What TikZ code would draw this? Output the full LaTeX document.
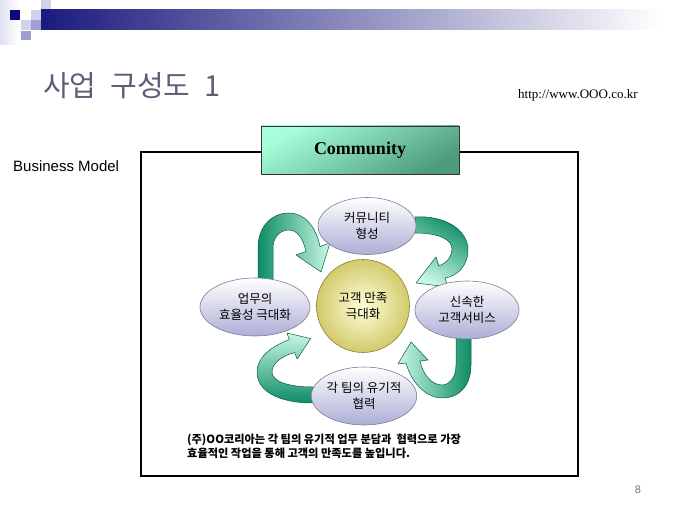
\documentclass[tikz,border=0pt]{standalone}
\usepackage{fontspec}
\setmainfont{Liberation Serif}
\newfontfamily\krfont{Noto Sans CJK KR}
\newfontfamily\arialfont{Liberation Sans}
\usetikzlibrary{shapes.geometric}
\definecolor{barnavy}{HTML}{1A1A7E}
\definecolor{sqnavy}{HTML}{0A0A80}
\definecolor{sqlight}{HTML}{D2D2EA}
\definecolor{sqmid}{HTML}{A0A0D0}
\definecolor{titlegray}{HTML}{5E5E78}
\definecolor{rdark}{HTML}{0E8C66}
\definecolor{rlight}{HTML}{C8F8E4}
\definecolor{redge}{HTML}{0A5A42}
\definecolor{lav}{HTML}{ACAED6}
\definecolor{bubbleedge}{HTML}{7E7E96}
\definecolor{yelin}{HTML}{FFFFDA}
\definecolor{yelout}{HTML}{D2CA6C}
\definecolor{yeledge}{HTML}{8A842E}
\definecolor{mintA}{HTML}{A6FFDA}
\definecolor{mintB}{HTML}{4E9C7C}
\definecolor{pagegray}{HTML}{777777}
\begin{document}
\begin{tikzpicture}[x=1pt,y=-1pt,
  bubble/.style={ellipse, draw=bubbleedge, line width=0.6pt, top color=white, bottom color=lav, inner sep=0pt, align=center, font={\krfont\fontsize{12.5}{16}\selectfont}},
  ribbon/.style={draw=redge, line width=0.5pt, line join=round},
  sq/.style={draw=none}
]
\useasboundingbox (0,0) rectangle (680,510);
\fill[white] (0,0) rectangle (680,510);
% header decoration
\shade[left color=sqlight!70, right color=white] (0,0) rectangle (18,45);
\shade[left color=barnavy, right color=white] (41,10) rectangle (660,30);
\fill[sq, sqnavy] (10,10) rectangle (20,20);
\fill[sq, sqlight] (31,10) rectangle (41,20);
\fill[sq, sqlight] (21,20) rectangle (31,30);
\fill[sq, sqmid] (31,20) rectangle (41,30);
\fill[sq, sqmid] (21,31) rectangle (31,40);
\fill[sq, sqlight] (41,0) rectangle (51,9);
% title and labels
\node[anchor=base west, inner sep=0pt, text=titlegray, font={\krfont\fontsize{29}{34}\selectfont\spaceskip=14pt}] (title) at (43,97) {사업 구성도 1};
\node[anchor=base west, inner sep=0pt, font={\fontsize{13}{15}\selectfont}] (url) at (518,99) {http://www.OOO.co.kr};
\node[anchor=base west, inner sep=0pt, font={\arialfont\fontsize{15}{18}\selectfont}] (bm) at (13,172) {Business Model};
% main frame
\draw[line width=2.2pt] (141,152) rectangle (578,476);
% community box
\node[rectangle, draw=black!80, line width=0.8pt, top color=mintA, bottom color=mintB, shading angle=30, minimum width=198pt, minimum height=48pt, inner sep=0pt, font={\bfseries\fontsize{18}{20}\selectfont}] (comm) at (360,150) {Community};
% ribbon arrows
\shadedraw[ribbon, left color=rdark, right color=rlight]
  (258,282) -- (258,248) .. controls (258,226) and (272,213) .. (289,213)
  .. controls (304,213) and (316,226) .. (320,246.5) -- (330,243) -- (321,272) -- (296,255) -- (306,251.5)
  .. controls (303,238) and (297,230) .. (289,230) .. controls (280,230) and (273,237) .. (273,248)
  -- (273,282) -- cycle;
\shadedraw[ribbon, top color=rdark, bottom color=rlight, shading angle=-30]
  (415,217) .. controls (445,215) and (468,230) .. (468,250)
  .. controls (468,265) and (458,276) .. (445,278) -- (448,287) -- (416,283) -- (436,257) -- (439,266)
  .. controls (448,262) and (452,256) .. (452,249) .. controls (452,240) and (440,233) .. (415,233) -- cycle;
\shadedraw[ribbon, left color=rlight, right color=rdark]
  (471,338) -- (471,365) .. controls (471,385) and (460,398) .. (442,398)
  .. controls (428,398) and (412,385) .. (406,363) -- (398,364) -- (411,342) -- (428,360) -- (420,361)
  .. controls (423,375) and (432,385) .. (442,385) .. controls (449,385) and (456,378) .. (456,365)
  -- (456,338) -- cycle;
\shadedraw[ribbon, top color=rlight, bottom color=rdark]
  (313,403) .. controls (280,403) and (257,392) .. (257,372)
  .. controls (257,358) and (270,347) .. (289.4,339.5) -- (286.8,333) -- (310.6,338.6) -- (297.2,359) -- (294.6,352.5)
  .. controls (282,356) and (272,363) .. (272,372) .. controls (272,382) and (290,387) .. (313,387) -- cycle;
% bubbles
\node[bubble, minimum width=98pt, minimum height=57pt] (topb) at (367,226) {커뮤니티\\형성};
\node[bubble, minimum width=110pt, minimum height=58pt] (leftb) at (255,307) {업무의\\효율성 극대화};
\node[bubble, minimum width=104pt, minimum height=58pt] (rightb) at (467,310) {신속한\\고객서비스};
\node[bubble, minimum width=105pt, minimum height=58pt] (botb) at (364,396) {각 팀의 유기적\\협력};
\node[circle, draw=yeledge, line width=0.6pt, inner color=yelin, outer color=yelout, minimum size=93pt, inner sep=0pt, align=center, font={\krfont\fontsize{12.5}{16}\selectfont}] (center) at (363,306) {고객 만족\\극대화};
% bottom text
\node[anchor=north west, inner sep=0pt, align=left, font={\krfont\bfseries\fontsize{11.2}{14}\selectfont}] (note) at (187,434) {(주)OO코리아는 각 팀의 유기적 업무 분담과 \ 협력으로 가장\\효율적인 작업을 통해 고객의 만족도를 높입니다.};
% page number
\node[anchor=base, inner sep=0pt, text=pagegray, font={\arialfont\fontsize{11}{13}\selectfont}] (page) at (638,493) {8};
\end{tikzpicture}
\end{document}
